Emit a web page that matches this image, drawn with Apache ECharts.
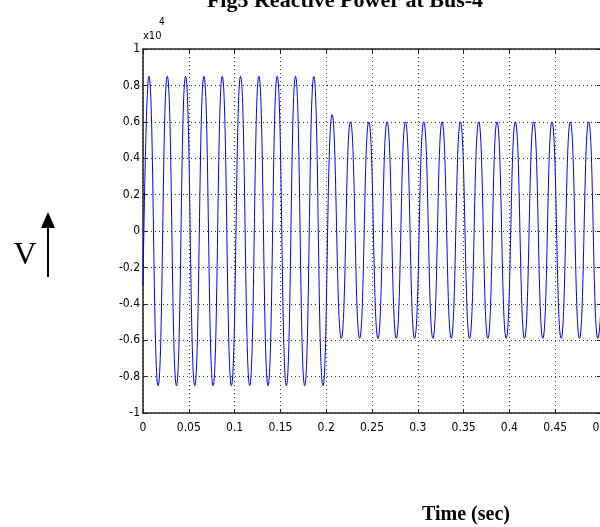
<!DOCTYPE html>
<html>
<head>
<meta charset="utf-8">
<script src="https://cdn.jsdelivr.net/npm/echarts@6/dist/echarts.min.js"></script>
<style>html,body{margin:0;padding:0;background:#fff;}#c{width:600px;height:527px;}</style>
</head>
<body>
<div id="c"></div>
<script>
// Extrema of the waveform (time in s, value in x10^4)
const times = [0, 0.0065, 0.0165, 0.0265, 0.0365, 0.0465, 0.0565, 0.0665, 0.0765, 0.0865, 0.0965,
  0.1065, 0.1165, 0.1265, 0.1365, 0.1465, 0.1565, 0.1665, 0.1765, 0.1865, 0.1965,
  0.2065, 0.2165, 0.2265, 0.2365, 0.2465, 0.2565, 0.2665, 0.2765, 0.2865, 0.2965,
  0.3065, 0.3165, 0.3265, 0.3365, 0.3465, 0.3565, 0.3665, 0.3765, 0.3865, 0.3965,
  0.4065, 0.4165, 0.4265, 0.4365, 0.4465, 0.4565, 0.4665, 0.4765, 0.4865, 0.4965, 0.5065];
const values = [-0.3,
  0.85, -0.85, 0.85, -0.85, 0.85, -0.85, 0.85, -0.85, 0.85, -0.85,
  0.85, -0.85, 0.85, -0.85, 0.85, -0.85, 0.85, -0.85, 0.85, -0.85,
  0.64, -0.59, 0.6, -0.59, 0.6, -0.59, 0.6, -0.59, 0.6, -0.59,
  0.6, -0.59, 0.6, -0.59, 0.6, -0.59, 0.6, -0.59, 0.6, -0.59,
  0.6, -0.59, 0.6, -0.59, 0.6, -0.59, 0.6, -0.59, 0.6, -0.59, 0.6];
const xTickLabels = ['0', '0.05', '0.1', '0.15', '0.2', '0.25', '0.3', '0.35', '0.4', '0.45', '0.5'];
const yTickLabels = ['-1', '-0.8', '-0.6', '-0.4', '-0.2', '0', '0.2', '0.4', '0.6', '0.8', '1'];
const titleText = 'Fig5 Reactive Power at Bus-4';
const xLabel = 'Time (sec)';
const yLabel = 'V';

const tickFont = "'DejaVu Sans Condensed','Liberation Sans Narrow',sans-serif";
const serif = "'Liberation Serif','DejaVu Serif',serif";

const chart = echarts.init(document.getElementById('c'), null, {renderer: 'canvas'});
const gridLine = {show: true, lineStyle: {color: '#333', type: [1, 3], width: 1}};
const axisLine = {show: true, onZero: false, lineStyle: {color: '#222', width: 1.5}};
const tick = {show: true, inside: true, length: 4, lineStyle: {color: '#222'}};

chart.setOption({
  animation: false,
  backgroundColor: '#fff',
  grid: {left: 143, top: 49, width: 458, height: 364, containLabel: false, outerBoundsMode: 'none'},
  xAxis: [{
    type: 'value', min: 0, max: 0.5, interval: 0.05, position: 'bottom',
    axisLine, axisTick: tick, splitLine: gridLine,
    axisLabel: {
      color: '#000', fontFamily: tickFont, fontSize: 12, margin: 9,
      formatter: (v) => xTickLabels[Math.round(v / 0.05)]
    }
  }, {
    type: 'value', min: 0, max: 0.5, interval: 0.05, position: 'top',
    axisLine, axisTick: tick, splitLine: {show: false}, axisLabel: {show: false}
  }],
  yAxis: [{
    type: 'value', min: -1, max: 1, interval: 0.2, position: 'left',
    axisLine, axisTick: tick, splitLine: gridLine,
    axisLabel: {
      color: '#000', fontFamily: tickFont, fontSize: 12, margin: 3,
      formatter: (v) => yTickLabels[Math.round((v + 1) / 0.2)]
    }
  }, {
    type: 'value', min: -1, max: 1, interval: 0.2, position: 'right',
    axisLine, axisTick: tick, splitLine: {show: false}, axisLabel: {show: false}
  }],
  series: [{
    type: 'line',
    data: times.map((t, i) => [t, values[i]]),
    smooth: true,
    showSymbol: false,
    clip: true,
    lineStyle: {color: '#0000ff', width: 1}
  }],
  graphic: [
    {type: 'text', style: {text: titleText, x: 345, y: 1, align: 'center', verticalAlign: 'middle',
      font: "bold 22px " + serif, fill: '#000'}},
    {type: 'text', style: {text: 'x10', x: 143, y: 36, align: 'left', verticalAlign: 'middle',
      font: "11px " + tickFont, fill: '#000'}},
    {type: 'text', style: {text: '4', x: 159, y: 22, align: 'left', verticalAlign: 'middle',
      font: "10px " + tickFont, fill: '#000'}},
    {type: 'text', style: {text: yLabel, x: 25, y: 256, align: 'center', verticalAlign: 'middle',
      font: "32px " + serif, fill: '#000'}},
    {type: 'line', shape: {x1: 48, y1: 225, x2: 48, y2: 277}, style: {stroke: '#000', lineWidth: 2}},
    {type: 'polygon', shape: {points: [[48, 212], [41, 228], [55, 228]]}, style: {fill: '#000'}},
    {type: 'text', style: {text: xLabel, x: 466, y: 515, align: 'center', verticalAlign: 'middle',
      font: "bold 20px " + serif, fill: '#000'}}
  ]
});
</script>
</body>
</html>
